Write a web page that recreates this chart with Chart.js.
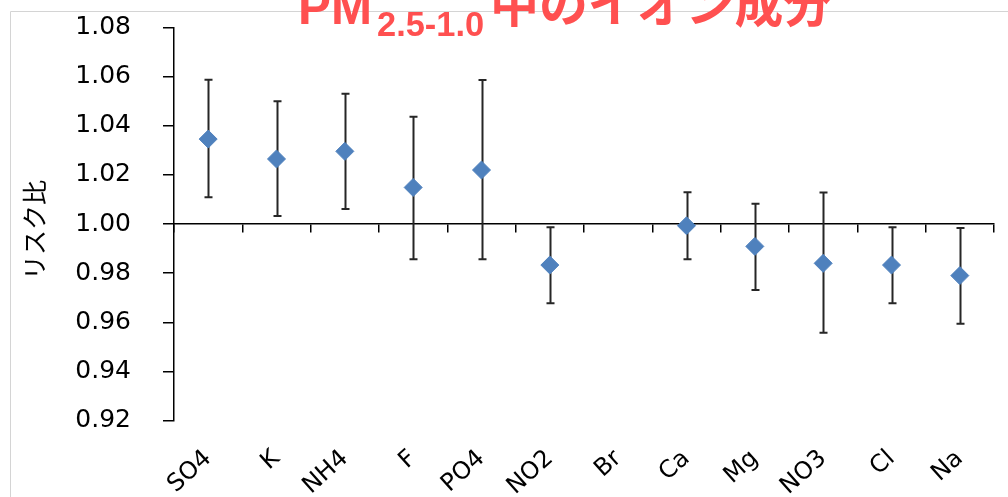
<!DOCTYPE html>
<html>
<head>
<meta charset="utf-8">
<script src="https://cdn.jsdelivr.net/npm/chart.js@4.4.0/dist/chart.umd.min.js"></script>
<style>
  body { margin: 0; background: #fff; }
  #box { width: 1008px; height: 497px; }
</style>
</head>
<body>
<div id="box"><canvas id="riskChart" width="1008" height="497"></canvas></div>
<script>
const categories = ['SO4', 'K', 'NH4', 'F', 'PO4', 'NO2', 'Br', 'Ca', 'Mg', 'NO3', 'Cl', 'Na'];
const riskRatio = [1.0346, 1.0265, 1.0296, 1.0149, 1.0220, 0.9833, null, 0.9993, 0.9909, 0.9840, 0.9833, 0.9790];
const upperCI   = [1.0588, 1.0500, 1.0531, 1.0437, 1.0587, 0.9987, null, 1.0129, 1.0083, 1.0128, 0.9987, 0.9984];
const lowerCI   = [1.0109, 1.0033, 1.0061, 0.9857, 0.9857, 0.9677, null, 0.9857, 0.9731, 0.9557, 0.9677, 0.9594];
const yMin = 0.92, yMax = 1.08, yStep = 0.02;
const titleMain = 'PM', titleSub = '2.5-1.0', titleRest = '中のイオン成分';
const yTitle = 'リスク比';

const errorBars = {
    id: 'errorBars',
    beforeDatasetsDraw(chart) {
        const { ctx, scales: { x, y } } = chart;
        ctx.save();
        ctx.strokeStyle = '#262626';
        ctx.lineWidth = 2;
        categories.forEach((c, i) => {
            if (upperCI[i] == null) return;
            const px = Math.round(x.getPixelForValue(i)) + 0.5;
            const top = y.getPixelForValue(upperCI[i]);
            const bot = y.getPixelForValue(lowerCI[i]);
            ctx.beginPath();
            ctx.moveTo(px, top); ctx.lineTo(px, bot);
            ctx.moveTo(px - 4, top); ctx.lineTo(px + 4, top);
            ctx.moveTo(px - 4, bot); ctx.lineTo(px + 4, bot);
            ctx.stroke();
        });
        ctx.restore();
    }
};

// text fitted to a target width, as the title in the picture is
function fitText(ctx, text, weight, size, family, width) {
    ctx.font = weight + ' ' + size + 'px ' + family;
    const s = size * width / ctx.measureText(text).width;
    ctx.font = weight + ' ' + s.toFixed(1) + 'px ' + family;
}

const frameAndTitle = {
    id: 'frameAndTitle',
    beforeDraw(chart) {
        const ctx = chart.ctx;
        ctx.save();
        ctx.strokeStyle = '#d4d4d4';
        ctx.lineWidth = 1;
        ctx.beginPath();
        ctx.moveTo(10.5, 497); ctx.lineTo(10.5, 11.5); ctx.lineTo(1008, 11.5);
        ctx.stroke();
        ctx.restore();
    },
    afterDraw(chart) {
        const ctx = chart.ctx;
        ctx.save();
        ctx.fillStyle = '#ff5050';
        ctx.textBaseline = 'alphabetic';
        fitText(ctx, titleMain, 'bold', 48, '"Liberation Sans"', 74);
        ctx.fillText(titleMain, 298, 24);
        fitText(ctx, titleSub, 'bold', 30, '"Liberation Sans"', 107);
        ctx.fillText(titleSub, 377, 36);
        fitText(ctx, titleRest, 'bold', 56, '"Noto Sans CJK JP"', 342);
        ctx.fillText(titleRest, 490, 22);

        // y axis title
        ctx.translate(34, 230);
        ctx.rotate(-Math.PI / 2);
        ctx.fillStyle = '#000';
        ctx.textAlign = 'center';
        ctx.textBaseline = 'middle';
        ctx.font = '25px "Noto Sans CJK JP"';
        ctx.fillText(yTitle, 0, 0);
        ctx.restore();
    }
};

const ctx = document.getElementById('riskChart').getContext('2d');

const riskChart = new Chart(ctx, {
    type: 'line',
    data: {
        labels: categories,
        datasets: [{
            label: 'リスク比',
            data: riskRatio,
            showLine: false,
            pointStyle: 'rectRot',
            pointRadius: 9,
            pointHoverRadius: 9,
            pointBackgroundColor: '#4f81bd',
            pointBorderColor: '#4f81bd',
            pointBorderWidth: 1
        }]
    },
    options: {
        responsive: false,
        animation: false,
        layout: { padding: { top: 27.6, right: 14, bottom: 0, left: 0 } },
        plugins: {
            legend: { display: false },
            tooltip: { enabled: false }
        },
        scales: {
            x: {
                type: 'category',
                position: 'bottom',
                offset: true,
                grid: { display: false, drawTicks: false },
                border: { display: false },
                ticks: {
                    autoSkip: false,
                    minRotation: 42,
                    maxRotation: 42,
                    padding: 24,
                    color: '#000',
                    font: { family: '"DejaVu Sans"', size: 24 }
                },
                afterFit(scale) { scale.height = 76.5; }
            },
            xCross: {
                type: 'category',
                axis: 'x',
                position: { y: 1.0 },
                offset: true,
                grid: {
                    display: true,
                    offset: true,
                    drawOnChartArea: false,
                    drawTicks: true,
                    tickLength: 8,
                    color: '#000',
                    lineWidth: 1.5
                },
                border: { display: true, color: '#000', width: 1.5 },
                ticks: { display: false }
            },
            y: {
                type: 'linear',
                position: 'left',
                min: yMin,
                max: yMax,
                grid: {
                    drawOnChartArea: false,
                    drawTicks: true,
                    tickLength: 11,
                    color: '#000',
                    lineWidth: 1.5
                },
                border: { display: true, color: '#000', width: 1.5 },
                ticks: {
                    stepSize: yStep,
                    padding: 32,
                    color: '#000',
                    font: { family: '"DejaVu Sans"', size: 25 },
                    callback: v => v.toFixed(2)
                },
                afterFit(scale) {
                    scale.width = 174;
                    scale.paddingTop = 0;
                    scale.paddingBottom = 0;
                }
            }
        }
    },
    plugins: [errorBars, frameAndTitle]
});
</script>
</body>
</html>
